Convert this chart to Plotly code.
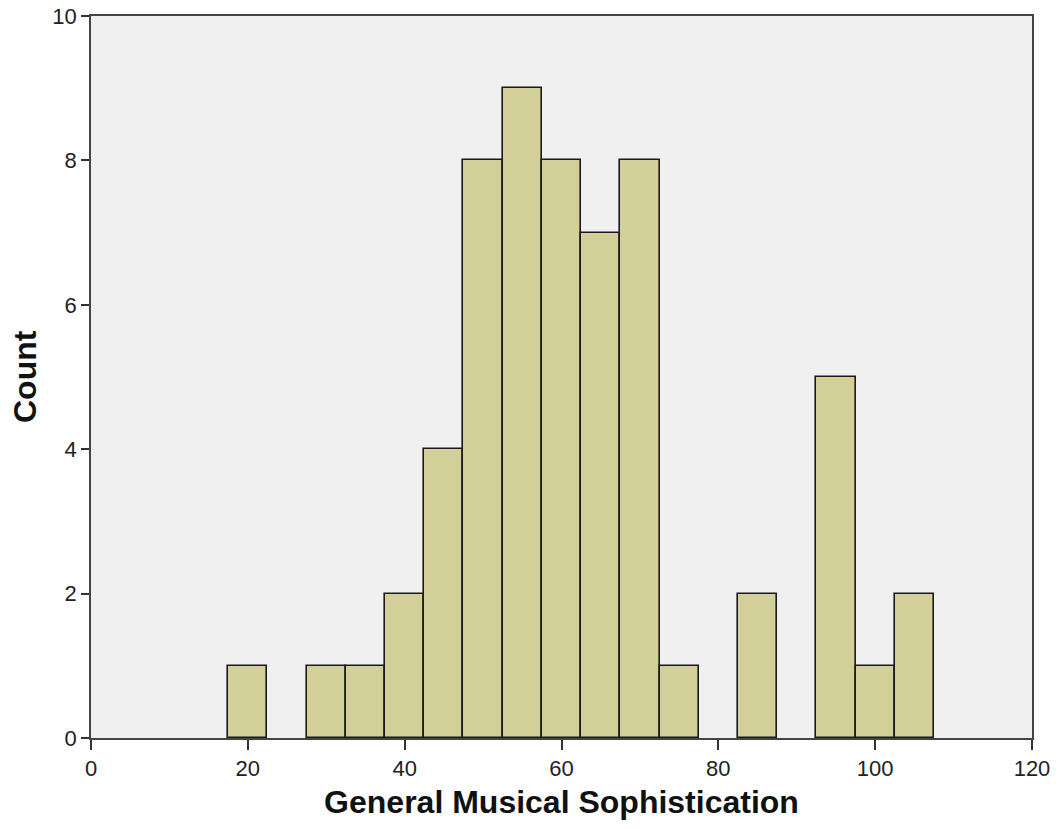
import plotly.graph_objects as go

bin_centers = [20, 30, 35, 40, 45, 50, 55, 60, 65, 70, 75, 85, 95, 100, 105]
counts = [1, 1, 1, 2, 4, 8, 9, 8, 7, 8, 1, 2, 5, 1, 2]
bin_width = 5
x_ticks = [0, 20, 40, 60, 80, 100, 120]
y_ticks = [0, 2, 4, 6, 8, 10]

fig = go.Figure(go.Bar(
    x=bin_centers, y=counts, width=[bin_width] * len(bin_centers),
    marker=dict(color="#D3CF98", line=dict(color="#1a1a1a", width=1.6)),
    hoverinfo="x+y",
))

axis_font = dict(family="Liberation Sans, Arial, sans-serif", size=22, color="#222")
title_font = dict(family="Liberation Sans, Arial, sans-serif", size=32, color="#111")

fig.update_layout(
    width=1063, height=829,
    margin=dict(l=91, r=31, t=16, b=91, autoexpand=False),
    paper_bgcolor="white", plot_bgcolor="#F0F0F0",
    bargap=0, showlegend=False,
    xaxis=dict(
        range=[0, 120], tickvals=x_ticks, ticks="outside", ticklen=10, tickwidth=1.5,
        tickcolor="#333", showgrid=False, zeroline=False, showline=True, linecolor="#444",
        linewidth=1.5, mirror=True, tickfont=axis_font, automargin=False,
        ticklabeloverflow="allow",
        title=dict(text="<b>General Musical Sophistication</b>", font=title_font, standoff=10),
    ),
    yaxis=dict(
        range=[0, 10], tickvals=y_ticks, ticks="outside", ticklen=8, tickwidth=1.5,
        tickcolor="#333", showgrid=False, zeroline=False, showline=True, linecolor="#444",
        linewidth=1.5, mirror=True, tickfont=axis_font, automargin=False,
        ticklabeloverflow="allow",
    ),
    annotations=[dict(
        text="<b>Count</b>", font=title_font, textangle=-90,
        xref="paper", yref="paper", x=0, y=0.5, xanchor="center", yanchor="middle",
        xshift=-66, showarrow=False,
    )],
)

fig.write_html("out.html", config={"displayModeBar": False},
               post_script="document.body.style.margin='0';")
